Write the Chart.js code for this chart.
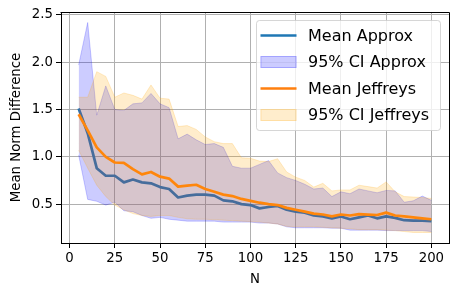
<!DOCTYPE html>
<html>
<head>
<meta charset="utf-8">
<script src="https://cdn.jsdelivr.net/npm/chart.js@4"></script>
<style>
  body { margin: 0; background: #fff; }
  canvas { display: block; }
</style>
</head>
<body>
<canvas id="normChart" width="458" height="296"></canvas>
<script>
const nValues = [5, 10, 15, 20, 25, 30, 35, 40, 45, 50, 55, 60, 65, 70, 75, 80, 85, 90, 95, 100,
  105, 110, 115, 120, 125, 130, 135, 140, 145, 150, 155, 160, 165, 170, 175, 180, 185, 190, 195, 200]

const meanApprox = [1.51, 1.25, 0.88, 0.80, 0.80, 0.73, 0.76, 0.73, 0.72, 0.68, 0.66, 0.57, 0.59, 0.60, 0.60, 0.59, 0.54, 0.53, 0.50, 0.49,
  0.455, 0.47, 0.48, 0.44, 0.42, 0.41, 0.38, 0.37, 0.35, 0.37, 0.34, 0.36, 0.38, 0.35, 0.37, 0.355, 0.33, 0.325, 0.325, 0.32]
const ciApproxLow = [1.02, 0.55, 0.53, 0.49, 0.52, 0.43, 0.42, 0.38, 0.35, 0.36, 0.34, 0.33, 0.32, 0.32, 0.32, 0.32, 0.31, 0.31, 0.31, 0.31,
  0.30, 0.30, 0.29, 0.26, 0.25, 0.25, 0.25, 0.25, 0.245, 0.245, 0.225, 0.225, 0.225, 0.225, 0.22, 0.22, 0.22, 0.22, 0.22, 0.21]
const ciApproxHigh = [1.97, 2.42, 1.44, 1.75, 1.50, 1.49, 1.56, 1.57, 1.67, 1.56, 1.52, 1.19, 1.24, 1.18, 1.13, 1.14, 1.10, 0.90, 0.88, 0.88,
  0.92, 0.96, 0.83, 0.78, 0.75, 0.71, 0.66, 0.67, 0.58, 0.63, 0.61, 0.66, 0.64, 0.62, 0.645, 0.64, 0.52, 0.535, 0.585, 0.54]

const meanJeffreys = [1.45, 1.28, 1.10, 1.00, 0.94, 0.935, 0.87, 0.815, 0.84, 0.79, 0.77, 0.685, 0.695, 0.705, 0.66, 0.63, 0.60, 0.585, 0.555, 0.535,
  0.515, 0.50, 0.49, 0.46, 0.44, 0.42, 0.40, 0.39, 0.37, 0.39, 0.38, 0.395, 0.39, 0.385, 0.41, 0.38, 0.37, 0.36, 0.35, 0.34]
const ciJeffreysLow = [1.07, 0.88, 0.70, 0.58, 0.49, 0.44, 0.40, 0.38, 0.37, 0.38, 0.38, 0.36, 0.345, 0.34, 0.34, 0.335, 0.33, 0.325, 0.32, 0.315,
  0.31, 0.30, 0.29, 0.265, 0.26, 0.26, 0.26, 0.255, 0.25, 0.245, 0.24, 0.23, 0.23, 0.23, 0.225, 0.22, 0.21, 0.20, 0.20, 0.20]
const ciJeffreysHigh = [1.63, 1.63, 1.90, 1.85, 1.63, 1.675, 1.65, 1.61, 1.76, 1.62, 1.61, 1.32, 1.33, 1.29, 1.21, 1.16, 1.14, 1.14, 0.99, 0.985,
  0.955, 0.95, 0.98, 0.84, 0.785, 0.75, 0.68, 0.72, 0.64, 0.65, 0.65, 0.70, 0.685, 0.67, 0.735, 0.63, 0.58, 0.575, 0.57, 0.56]

const xTicks = [0, 25, 50, 75, 100, 125, 150, 175, 200]
const yTicks = [0.5, 1.0, 1.5, 2.0, 2.5]

const blue = '#1f77b4'
const orange = '#ff7f0e'
const blueFill = 'rgba(0, 0, 255, 0.2)'
const orangeFill = 'rgba(255, 165, 0, 0.2)'
const fontFamily = "'DejaVu Sans', sans-serif"

const toPoints = (arr) => nValues.map((n, i) => ({ x: n, y: arr[i] }))

// matplotlib style 5% margins
const allY = [].concat(ciApproxLow, ciApproxHigh, ciJeffreysLow, ciJeffreysHigh, meanApprox, meanJeffreys)
const yLo = Math.min(...allY), yHi = Math.max(...allY)
const xLo = nValues[0], xHi = nValues[nValues.length - 1]

Chart.defaults.color = '#000'
Chart.defaults.font.family = fontFamily

const frameAndLegend = {
  id: 'frameAndLegend',
  afterDraw(chart) {
    const { ctx, chartArea: a } = chart
    ctx.save()
    ctx.strokeStyle = '#000'
    ctx.lineWidth = 1
    ctx.beginPath()
    ctx.moveTo(Math.round(a.left) - 0.5, Math.round(a.top) + 0.5)
    ctx.lineTo(Math.round(a.right) + 0.5, Math.round(a.top) + 0.5)
    ctx.lineTo(Math.round(a.right) + 0.5, Math.round(a.bottom))
    ctx.stroke()

    // legend box
    const w = 184, h = 110
    const left = a.right - 9 - w
    const top = a.top + 8
    ctx.beginPath()
    ctx.roundRect(left + 0.5, top + 0.5, w, h, 3)
    ctx.fillStyle = 'rgba(255, 255, 255, 0.8)'
    ctx.fill()
    ctx.strokeStyle = 'rgba(204, 204, 204, 0.8)'
    ctx.stroke()

    const items = chart.data.datasets.filter(d => d.label)
    ctx.font = '16px ' + fontFamily
    ctx.textBaseline = 'middle'
    items.forEach((d, i) => {
      const y = top + 15.5 + i * 26.5
      const x0 = left + 4.5
      if (d.fill) {
        ctx.fillStyle = d.backgroundColor
        ctx.fillRect(x0, y - 6, 36, 12)
        ctx.strokeStyle = d.borderColor
        ctx.lineWidth = 1
        ctx.strokeRect(x0 + 0.5, y - 5.5, 35, 11)
      } else {
        ctx.strokeStyle = d.borderColor
        ctx.lineWidth = d.borderWidth
        ctx.beginPath()
        ctx.moveTo(x0, y)
        ctx.lineTo(x0 + 36, y)
        ctx.stroke()
      }
      ctx.fillStyle = '#000'
      ctx.fillText(d.label, left + 52, y + 1)
    })
    ctx.restore()
  }
}

const lineSet = (label, arr, color, order) => ({
  label: label,
  data: toPoints(arr),
  borderColor: color,
  borderWidth: 2.7,
  borderJoinStyle: 'round',
  pointRadius: 0,
  fill: false,
  order: order
})

const bandSet = (label, arr, color, fillTo, order) => ({
  label: label,
  data: toPoints(arr),
  borderColor: color,
  backgroundColor: color,
  borderWidth: 1,
  pointRadius: 0,
  fill: fillTo,
  order: order
})

const chartCanvas = document.getElementById('normChart')
const normChart = new Chart(chartCanvas, {
  type: 'line',
  data: {
    datasets: [
      lineSet('Mean Approx', meanApprox, blue, 6),
      bandSet('95% CI Approx', ciApproxHigh, blueFill, '+1', 5),
      bandSet('', ciApproxLow, blueFill, false, 5),
      lineSet('Mean Jeffreys', meanJeffreys, orange, 3),
      bandSet('95% CI Jeffreys', ciJeffreysHigh, orangeFill, '+1', 2),
      bandSet('', ciJeffreysLow, orangeFill, false, 2)
    ]
  },
  options: {
    responsive: false,
    animation: false,
    layout: { padding: { top: 12, right: 9, left: 0, bottom: 0 } },
    plugins: {
      legend: { display: false },
      tooltip: { enabled: false }
    },
    scales: {
      x: {
        type: 'linear',
        min: xLo - 0.05 * (xHi - xLo),
        max: xHi + 0.05 * (xHi - xLo),
        afterBuildTicks: (scale) => { scale.ticks = xTicks.map(v => ({ value: v })) },
        afterFit: (scale) => { scale.height = 53 },
        ticks: { font: { size: 13.3 }, padding: 3, maxRotation: 0 },
        grid: { color: '#b0b0b0', lineWidth: 1, tickColor: '#000', tickLength: 5 },
        border: { color: '#000', width: 1 },
        title: { display: true, text: 'N', font: { size: 13.3 }, padding: { top: 0, bottom: 8 } }
      },
      y: {
        min: yLo - 0.05 * (yHi - yLo),
        max: yHi + 0.05 * (yHi - yLo),
        afterBuildTicks: (scale) => { scale.ticks = yTicks.map(v => ({ value: v })) },
        afterFit: (scale) => { scale.width = 61 },
        ticks: { font: { size: 13.3 }, padding: 3, callback: (v) => v.toFixed(1) },
        grid: { color: '#b0b0b0', lineWidth: 1, tickColor: '#000', tickLength: 5 },
        border: { color: '#000', width: 1 },
        title: { display: true, text: 'Mean Norm Difference', font: { size: 13.3 }, padding: { top: 9, bottom: 0 } }
      }
    }
  },
  plugins: [frameAndLegend]
})
</script>
</body>
</html>
